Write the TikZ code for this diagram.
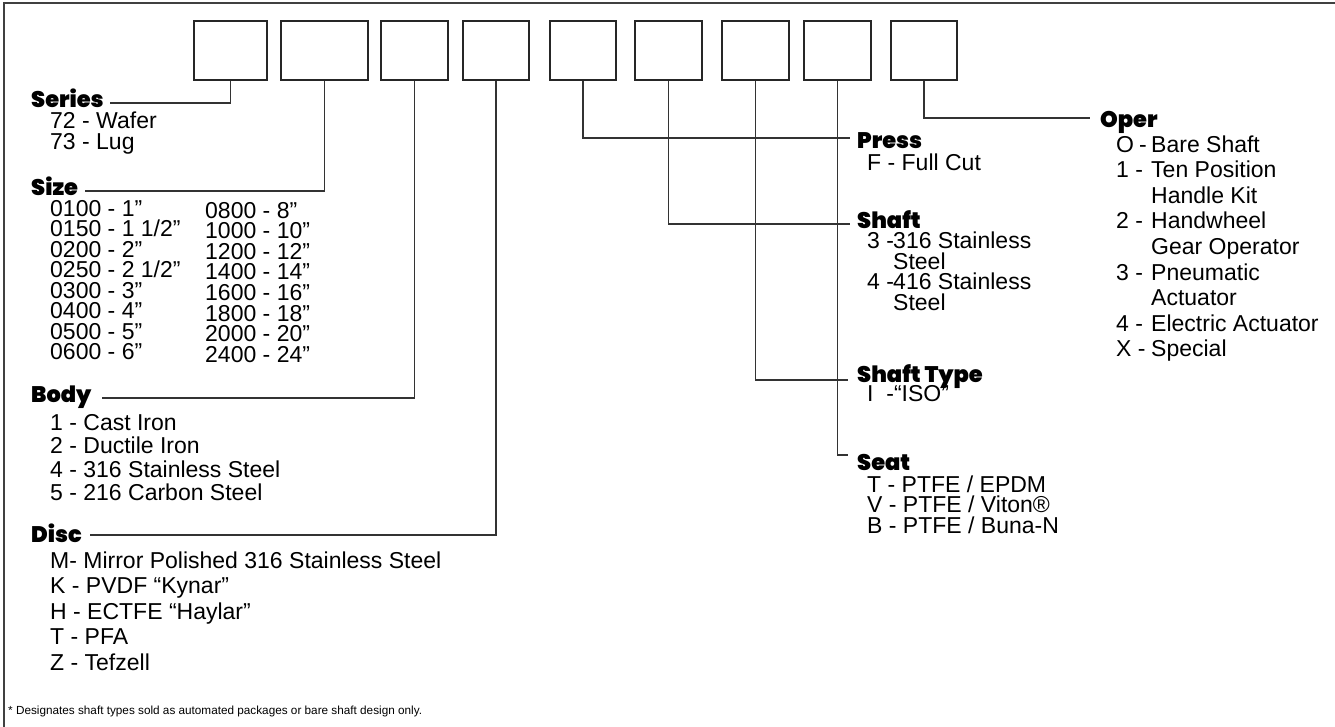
\documentclass[tikz,border=0pt]{standalone}
\usepackage{fontspec}
\setmainfont{Liberation Sans}
\newfontfamily\hfont{Poppins Black}
\begin{document}
\begin{tikzpicture}[x=1pt,y=-1pt,
  digit/.style={draw=black!85, line width=1.4pt, minimum width=#1, minimum height=59pt, inner sep=0pt},
  conn/.style={draw=black!80, line width=1.1pt},
  head/.style={anchor=base west, inner sep=0pt, font=\hfont\fontsize{22.5}{22}\selectfont},
  item/.style={anchor=base west, inner sep=0pt, font=\fontsize{23}{23}\selectfont},
  foot/.style={anchor=base west, inner sep=0pt, font=\fontsize{11.75}{12}\selectfont}]
\useasboundingbox (0,0) rectangle (1335,726);
% frame
\draw[draw=black!75, line width=2pt] (1336,3) -- (4,3) -- (4,727);
% code boxes
\node[digit=73pt] (b1) at (230.5,50.5) {};
\node[digit=87pt] (b2) at (324.5,50.5) {};
\node[digit=67pt] (b3) at (414.5,50.5) {};
\node[digit=66pt] (b4) at (496,50.5) {};
\node[digit=66pt] (b5) at (583,50.5) {};
\node[digit=67pt] (b6) at (668.5,50.5) {};
\node[digit=67pt] (b7) at (755.5,50.5) {};
\node[digit=67pt] (b8) at (837.5,50.5) {};
\node[digit=66pt] (b9) at (924,50.5) {};
% titles
\node[head] (tSeries) at (31,107) {Series};
\node[head] (tSize) at (31,195) {Size};
\node[head] (tBody) at (31,402) {Body};
\node[head] (tDisc) at (31,542) {Disc};
\node[head] (tPress) at (857,148) {Press};
\node[head] (tShaft) at (857,228) {Shaft};
\node[head] (tType) at (857,382) {Shaft Type};
\node[head] (tSeat) at (857,470) {Seat};
\node[head] (tOper) at (1100,127) {Oper};
% connector ends
\coordinate (eSeries) at (110,103);
\coordinate (eSize) at (85,191);
\coordinate (eBody) at (102,398);
\coordinate (eDisc) at (90,535);
\coordinate (ePress) at (850,138);
\coordinate (eShaft) at (850,224);
\coordinate (eType) at (848,380);
\coordinate (eSeat) at (848,455);
\coordinate (eOper) at (1090,118);
\draw[conn] (b1.south) |- (eSeries);
\draw[conn] (b2.south) |- (eSize);
\draw[conn] (b3.south) |- (eBody);
\draw[conn] (b4.south) |- (eDisc);
\draw[conn] (b5.south) |- (ePress);
\draw[conn] (b6.south) |- (eShaft);
\draw[conn] (b7.south) |- (eType);
\draw[conn] (b8.south) |- (eSeat);
\draw[conn] (b9.south) |- (eOper);
% Series
\node[item] (se1) at (50,128) {72 - Wafer};
\node[item] (se2) at (50,149) {73 - Lug};
% Size
\foreach \t [count=\i from 0] in {0100 - 1”,0150 - 1 1/2”,0200 - 2”,0250 - 2 1/2”,0300 - 3”,0400 - 4”,0500 - 5”,0600 - 6”}
  \node[item] (szl\i) at (50,{216+20.5*\i}) {\t};
\foreach \t [count=\i from 0] in {0800 - 8”,1000 - 10”,1200 - 12”,1400 - 14”,1600 - 16”,1800 - 18”,2000 - 20”,2400 - 24”}
  \node[item] (szr\i) at (205,{218+20.6*\i}) {\t};
% Body
\foreach \t [count=\i from 0] in {1 - Cast Iron,2 - Ductile Iron,4 - 316 Stainless Steel,5 - 216 Carbon Steel}
  \node[item] (bo\i) at (50,{430+23.6*\i}) {\t};
% Disc
\foreach \t [count=\i from 0] in {M- Mirror Polished 316 Stainless Steel,K - PVDF “Kynar”,H - ECTFE “Haylar”,T - PFA,Z - Tefzell}
  \node[item] (di\i) at (50,{568+25.5*\i}) {\t};
% Press
\node[item] (pr1) at (867,170) {F - Full Cut};
% Shaft
\node[item] (shm1) at (867,248.5) {3 -};
\node[item] (sh1) at (893,248.5) {316 Stainless};
\node[item] (sh2) at (893,269) {Steel};
\node[item] (shm3) at (867,289.5) {4 -};
\node[item] (sh3) at (893,289.5) {416 Stainless};
\node[item] (sh4) at (893,310) {Steel};
% Shaft type
\node[item] (ty1) at (867,401) {I\ \ -“ISO”};
% Seat
\foreach \t [count=\i from 0] in {T - PTFE / EPDM,V - PTFE / Viton®,B - PTFE / Buna-N}
  \node[item] (st\i) at (867,{492+20.5*\i}) {\t};
% Oper
\foreach \m/\t [count=\i from 0] in {O\hspace{5pt}-/Bare Shaft,1 -/Ten Position,/Handle Kit,2 -/Handwheel,/Gear Operator,3 -/Pneumatic,/Actuator,4 -/Electric Actuator,X -/Special}{
  \node[item] (opm\i) at (1116,{152+25.6*\i}) {\m};
  \node[item] (op\i) at (1151,{152+25.6*\i}) {\t};
}
% footnote
\node[foot] (fn) at (8,714) {* Designates shaft types sold as automated packages or bare shaft design only.};
\end{tikzpicture}
\end{document}
